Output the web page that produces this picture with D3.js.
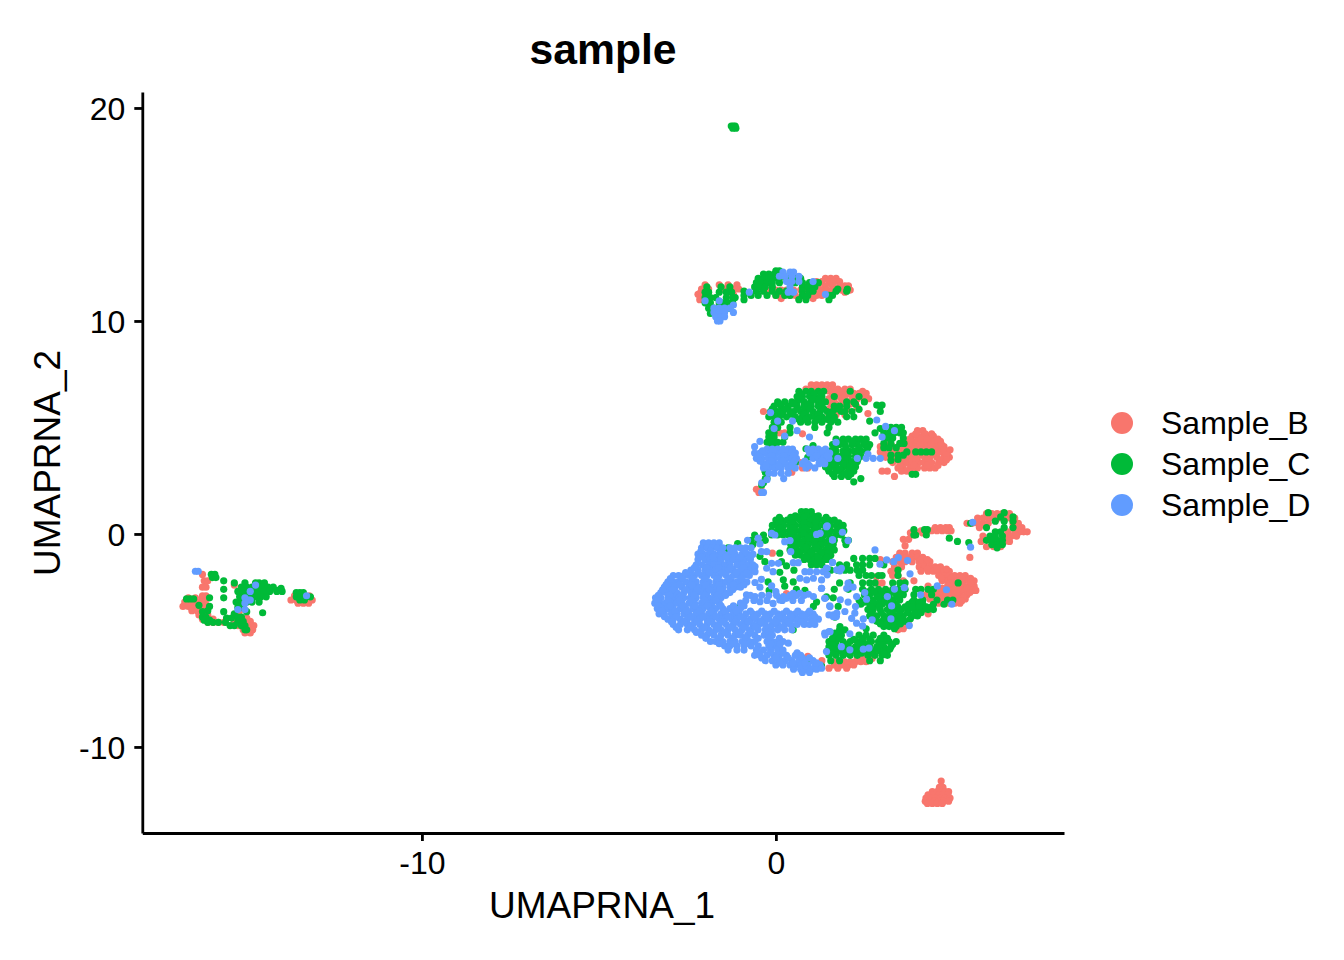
<!DOCTYPE html>
<html><head><meta charset="utf-8">
<script src="https://cdn.jsdelivr.net/npm/d3@7/dist/d3.min.js"></script>
<style>html,body{margin:0;background:#fff}svg{display:block}text{font-family:"Liberation Sans",Arial,sans-serif;fill:#000}</style>
</head><body><svg id="c" width="1344" height="960"></svg>
<script>
const chartTitle="sample", xLabel="UMAPRNA_1", yLabel="UMAPRNA_2";
const xTicks=[-10,0], yTicks=[-10,0,10,20];
const categories=["Sample_B","Sample_C","Sample_D"];
const colors=["#F8766D","#00BA38","#619CFF"];
// each row: [y, x, x, x ...]
const sampleB_rows=[
// bottom cluster
[-11.6,4.67],[-11.9,4.62,4.72],[-12.1,4.42,4.55,4.66,4.78,4.88],[-12.25,4.3,4.45,4.6,4.72,4.86],[-12.4,4.24,4.38,4.52,4.64,4.78,4.92],[-12.55,4.22,4.35,4.48,4.6,4.74,4.88],[-12.65,4.28,4.42,4.56,4.7],
// left clusters
[-1.9,-16.2],[-2.2,-16.15,-16.05],[-2.5,-16.2,-16.1],[-2.9,-16.1,-16.2],[-3.0,-16.6,-16.4,-16.2],[-3.2,-16.7,-16.55,-16.4,-16.25,-16.12],[-3.4,-16.75,-16.6,-16.45,-16.3,-16.15],[-3.6,-16.5,-16.35,-16.2],[-3.8,-16.3,-16.15,-16.05],[-4.0,-16.2,-16.05,-15.9],[-4.15,-16.05,-15.9,-15.75,-15.6],[-3.6,-15.15],[-2.4,-15.3],[-3.95,-15.1,-14.95],[-4.1,-15.3,-15.15,-15.0,-14.85],[-4.3,-15.2,-15.05,-14.9,-14.75],[-4.5,-15.05,-14.92,-14.78],[-4.65,-15.0,-14.85],
[-2.9,-13.6,-13.45,-13.3,-13.18],[-3.1,-13.7,-13.55,-13.4,-13.25,-13.1],[-3.25,-13.5,-13.35,-13.2],
// top band
[11.7,-2.0,-1.6,-1.35,-1.1],[11.5,-2.1,-1.9,-1.45,-1.2,-1.05],[11.25,-2.2,-2.05,-1.95,-1.2],[11.0,-2.15,-2.0],[12.0,1.4,1.55,1.7],[11.85,1.15,1.3,1.5,1.65,1.8],[11.65,-0.5,0.8,1.2,1.4,1.6,1.8,1.95,2.05],[11.45,-0.3,-0.15,0,0.15,0.3,0.5,0.7,0.9,1.1,1.3,1.45,1.6,1.85,2.0,2.1],[11.2,0.0,0.2,0.4,0.55,0.8,1.0,1.15,1.3],
// upper arc
[7.0,1.0,1.15,1.3,1.45,1.6],[6.8,0.85,1.0,1.2,1.4,1.6,1.75,1.95,2.1],[6.6,1.6,1.75,1.9,2.05,2.2,2.35,2.55],[6.35,1.5,1.65,1.85,2.15,2.3,2.5,2.62],[6.1,1.55,1.7,1.9,2.1,2.25],[5.85,1.5,1.65,1.85,2.0],[5.6,1.5,1.7,1.95],[5.45,1.6],[5.75,-0.35],[5.65,2.6],[4.7,0.75],
// right mid lobe
[4.85,4.0,4.15],[4.6,3.85,4.0,4.15,4.3,4.45],[4.35,3.7,3.85,4.0,4.2,4.35,4.5,4.65],[4.1,2.95,3.1,3.3,3.5,3.65,3.85,4.0,4.15,4.3,4.45,4.6,4.75],[3.85,2.95,3.15,3.3,3.5,3.65,3.85,4.0,4.2,4.35,4.5,4.65,4.85],[3.6,3.1,3.3,3.5,3.7,3.85,4.0,4.2,4.35,4.55,4.75,4.9],[3.35,3.3,3.55,3.7,3.85,4.05,4.2,4.4,4.6,4.75],[3.1,3.45,3.6,3.8,4.0,4.2,4.35,4.5],[2.95,3.0,3.15,3.55,3.7,3.85],[2.7,3.35],[2.9,0.45],[3.6,0.35],[3.35,0.55,0.7],[3.1,0.75,0.9],[3.45,-0.1],[4.75,0.1,0.25],
// small bit near -0.5,2
[2.1,-0.55,-0.42],[1.95,-0.48],
// right arc
[-0.55,3.65],[-0.9,3.5,3.65,3.85,4.0],[-1.1,3.4,3.55,3.7,3.85,4.0,4.15],[-1.3,3.3,3.5,3.65,3.85,4.05,4.2,4.35],[-1.55,3.35,3.55,4.05,4.2,4.35,4.5,4.65],[-1.75,3.25,3.4,4.1,4.3,4.45,4.6,4.75,4.9],[-1.95,3.3,3.45,4.6,4.75,4.9,5.05,5.2,5.35],[-2.2,3.6,3.9,4.7,4.85,5.0,5.15,5.3,5.45,5.6],[-2.45,4.3,4.85,5.0,5.15,5.3,5.45,5.6],[-2.65,4.4,4.6,4.75,4.9,5.05,5.2,5.35,5.55,5.65],[-2.85,4.25,4.45,4.6,4.75,4.9,5.05,5.2,5.4],[-3.05,4.35,4.55,4.7,4.85,5.0,5.15,5.35],[-3.25,4.6,4.75,4.9,5.05,5.2],[-3.75,4.3],[-4.45,3.6],[-4.25,3.75],[-1.2,2.95],[-2.0,2.85],[-2.3,2.85,3.0],
// upper right ring
[0.95,5.95,6.1,6.25,6.4,6.6],[0.75,5.7,5.85,6.0,6.15,6.3,6.45,6.6,6.75],[0.5,5.4,5.55,5.7,5.85,6.0,6.7,6.85],[0.3,5.75,6.7,6.85,6.95],[0.1,6.55,6.75,6.9,7.0,7.1],[-0.1,5.85,6.5,6.65,6.8],[-0.35,5.8,6.45,6.6],[-0.6,5.95,6.15,6.35],[-1.1,5.48],
[0.15,4.1,4.25,4.4,4.55,4.7,4.85,4.95],[0.3,4.5,4.65,4.8,4.9],[0.05,3.8,3.95,4.15],[-0.05,3.9],[-0.25,3.6,3.75],
// under lower green
[-5.85,2.3,2.45,2.6,2.72],[-6.0,1.65,1.8,1.95,2.1,2.25,2.4,2.55],[-6.15,1.65,1.85,2.05,2.2],[-6.3,1.5,1.75],[-4.5,3.45],[-5.95,1.3],[-6.3,2.0],[-4.3,3.65],
[-2.8,0.3,0.55],[-2.9,0.45],[-5.75,0.9],[-6.15,1.28],[-0.9,-0.1],
// staggered extra cells
[11.35,-2.12,-1.3,0.1,0.45,0.95,1.25,1.55,1.95],[11.05,0.15,0.65,1.05],[6.95,1.1,1.38],[6.7,1.1,1.5,1.85,2.45],[6.45,1.95,2.4],[6.2,1.6,2.0],[5.95,1.75,2.3],[4.7,3.95,4.22,4.4],[4.45,3.78,4.1,4.28,4.58],[4.2,3.2,3.75,4.08,4.38,4.68],[3.95,3.05,3.4,3.75,4.1,4.42,4.75,4.92],[3.72,3.0,3.4,3.78,4.12,4.45,4.82],[3.48,3.4,3.62,3.95,4.3,4.65,4.82],[3.22,3.5,3.9,4.28,4.58],
[-1.2,3.48,3.78,4.1,4.28],[-1.65,4.28,4.55,4.82],[-2.08,4.68,4.95,5.25,5.5],[-2.32,4.92,5.22,5.5],[-2.55,4.7,5.08,5.4],[-2.75,4.5,4.82,5.12,5.48],[-2.95,4.52,4.98,5.3],[-3.15,4.68,4.95,5.25]
];
const sampleC_rows=[
[19.15,-1.26,-1.2,-1.15],[19.05,-1.22,-1.13],
// left clusters
[-1.9,-15.95,-15.85],[-2.05,-15.92,-15.82],[-2.2,-15.6],[-2.3,-15.3,-15.0,-14.7,-14.6,-14.45],[-2.5,-15.1,-14.95,-14.8,-14.65,-14.5,-14.35,-14.2],[-2.7,-15.2,-15.05,-14.9,-14.75,-14.6,-14.45,-14.3,-14.1,-13.95],[-2.55,-13.98],[-2.65,-14.1],[-2.95,-15.15,-15.0,-14.85,-14.7,-14.55,-14.4],[-3.2,-15.25,-15.1,-14.95,-14.8,-14.6],[-3.0,-15.6],[-2.6,-15.6],[-3.45,-15.2,-15.05],[-3.65,-15.6,-14.95],
[-3.05,-16.65,-16.55,-16.45],[-3.0,-16.0],[-3.35,-16.3],[-3.4,-16.0],[-3.6,-16.05],[-3.65,-16.2],[-3.9,-16.2,-16.1],[-4.05,-16.15,-16.0],[-4.15,-16.05,-15.9,-15.75,-15.55],[-3.95,-15.52,-15.38],[-3.75,-15.3],[-3.7,-14.5],[-3.9,-15.2,-15.1],[-4.1,-15.2,-15.05],[-4.3,-15.42,-15.3,-15.1,-15.0],[-4.5,-15.0,-14.95],
[-2.75,-13.55,-13.45,-13.35],[-2.95,-13.55,-13.42,-13.3,-13.15],[-3.1,-13.45,-13.32],
// top band left
[11.6,-1.95,-1.55,-1.3],[11.35,-2.0,-1.9,-1.6,-1.4,-1.25],[11.1,-2.0,-1.85,-1.7,-1.4,-1.22,-1.15],[10.85,-2.0,-1.85,-1.6,-1.5,-1.35,-1.22],[10.6,-1.9,-1.75,-1.6,-1.45,-1.3],[10.35,-1.85,-1.7],
// top band right
[12.35,0.1,0.0],[12.2,-0.35,-0.2,-0.05,0.1,0.2,0.45],[12.0,-0.5,-0.35,-0.2,-0.05,0.1,0.3,0.55,0.7],[11.8,-0.55,-0.4,-0.25,-0.1,0.1,0.55,0.75,0.95,1.05,1.2],[11.6,-0.6,-0.45,-0.3,-0.1,0.75,0.9,1.0,1.1],[11.4,-0.9,-0.55,-0.35,-0.1,0.1,0.3,0.75,0.95,1.05,1.7,2.0],[11.2,-0.9,-0.7,-0.5,-0.25,0,0.25,0.4,0.75,0.9,1.5,1.6],[11.0,-0.9,0.65,0.85,1.5],[11.5,1.75,2.02],
// upper blob
[6.7,0.65,0.85,1.0,1.2,1.35,2.1],[6.45,0.6,0.75,0.95,1.1,1.3,1.65,2.35],[6.2,0.05,0.25,0.45,0.6,0.8,1.0,1.2,1.4,2.0,2.2,2.5],[6.0,-0.05,0.15,0.35,0.6,0.8,1.0,1.2,1.65,1.8,2.95,2.0],[5.75,-0.15,0.05,0.2,0.4,0.5,0.7,0.85,1.05,1.25,1.45,1.6,1.85,1.95,2.15],[5.5,-0.2,-0.05,0.1,0.3,0.55,0.75,0.95,1.1,1.3,1.5,1.65,2.0,2.2],[5.25,-0.05,0.15,0.7,0.9,1.1,1.3,1.55,1.75],[5.0,-0.1,0.05,0.4,1.1,1.5],[4.75,-0.2,-0.05,0.4,1.45],[4.55,-0.2,-0.05,0.25],[4.3,-0.25,-0.1,0.05,0.2],[4.1,-0.15,0],[6.05,2.85,3.0],[5.75,2.95],[2.95,-0.3,-0.25],[2.6,-0.3,-0.25],[2.4,-0.35],[2.3,-0.4],
// mid green
[4.45,1.7,1.9,2.05,2.25,2.4,2.55],[4.2,1.6,1.8,1.95,2.15,2.3,2.5,2.65],[3.9,1.55,1.7,1.9,2.05,2.2,2.4,2.55],[3.65,1.55,1.7,1.85,2.05,2.25,2.4],[3.4,1.5,1.65,1.8,2.0,2.15,2.3],[3.15,1.4,1.55,1.7,1.9,2.05,2.25],[2.95,1.5,1.7,1.85,2.05,2.2],[2.7,1.65,1.85,2.05],[2.45,2.2],[2.6,2.4],[4.0,0.85,1.0],[4.15,1.05],[3.6,1.05,0.9],[3.35,0.55],[2.9,-0.3],
// right mid
[4.95,2.95],[5.0,3.25,3.4,3.55],[4.75,2.8,3.05,3.2,3.35,3.5,3.6],[4.5,3.15,3.3,3.6],[4.25,3.05,3.25,3.5,3.62],[4.05,3.05,3.2,3.4],[3.85,3.7,3.95,4.1,4.25,4.4],[3.7,3.25,3.45,3.6],[3.45,3.25],[2.8,3.85,3.95],[3.5,3.45],[6.1,2.25],[5.85,2.35],[5.3,2.65],
// top blob (main)
[1.05,0.72,0.85,1.0],[0.85,0.55,0.72,0.88,1.05,1.2],[0.65,0.0,0.15,0.32,0.5,0.68,0.85,1.0,1.18,1.35,1.5,1.65],[0.4,-0.1,0.05,0.22,0.4,0.55,0.72,0.9,1.05,1.22,1.38,1.55,1.72,1.9],[0.15,-0.12,0.05,0.2,0.38,0.55,0.7,0.88,1.05,1.2,1.4,1.55,1.72,1.92],[-0.05,-0.6,-0.35,-0.12,0.05,0.2,0.36,0.52,0.7,0.86,1.0,1.2,1.35,1.5,1.7,1.85],[-0.3,-0.7,-0.5,-0.3,0.5,0.65,0.82,1.0,1.15,1.32,1.5,1.65,1.95,2.05],[-0.5,-0.65,0.42,0.6,0.76,0.92,1.1,1.28,1.45,1.62,1.98],[-0.75,-1.35,0.4,0.6,0.75,0.9,1.05,1.22,1.4,1.55,1.65],[-1.0,0.55,0.7,0.88,1.05,1.2,1.38,1.55],[-1.2,0.8,0.95,1.1,1.25,1.4,1.5],[-1.45,1.0,1.15,1.3],[-0.45,-1.08],[-1.05,-2.06],[-1.05,-0.45],[-0.9,0.11],[-1.3,0.16],[-1.3,-0.31],[-1.5,0.3],[-1.45,-0.69],[-1.8,0.11],[-1.7,0.51],[-2.15,0.21],[-2.25,-0.22],[-2.45,0.25],[-2.25,0.49],[-2.65,-0.19],[-2.6,0.58],[-2.65,0.82],[-3.4,1.06],[-3.2,1.15],[-2.95,1.43],[-3.0,1.62],[-3.4,1.76],[-3.9,1.67],[-5.0,1.58],[-4.65,1.67],[-4.35,1.81],[-4.5,0.49],[-5.9,0.92],[-6.2,1.29],[-0.65,-1.35],[-3.4,-1.02],
// main right
[-1.15,2.2,2.45,2.65,2.8],[-1.45,1.8,2.0,2.28,2.45,2.65,3.05],[-1.7,1.55,1.75,1.95,2.1,2.3,2.45,3.45],[-1.95,2.35,2.55,2.7,2.9,3.0,3.45],[-2.3,1.8,2.1,2.45,2.65,2.8,3.3,3.5,3.65,5.15],[-2.6,1.65,2.05,2.45,2.7,2.9,3.1,3.3,3.45,3.65,3.95,4.1,4.3,4.45],[-2.85,2.5,2.65,2.85,3.05,3.2,3.4,3.6,3.9,4.4],[-3.1,2.35,2.55,2.75,2.95,3.1,3.3,3.5,3.9,4.15,4.55,4.85,5.0],[-3.3,2.4,2.65,2.85,3.0,3.2,3.4,3.75,3.95,4.15,4.45,4.75],[-3.55,2.6,2.75,2.95,3.15,3.35,3.55,3.75,3.95,4.15,4.3,4.45],[-3.85,2.65,2.85,3.05,3.2,3.4,3.6,3.85,4.0],[-4.1,2.85,3.0,3.2,3.45,3.65],[-4.35,3.05,3.2,3.4],[-4.5,1.8,1.95],[-4.75,1.7,1.85,2.35,2.55,2.75,3.05],[-5.05,1.5,1.7,1.9,2.1,2.3,2.45,2.7,2.9,3.05,3.2,3.4],[-5.3,1.5,1.7,1.85,2.05,2.25,2.45,2.65,2.85,3.05,3.25],[-5.5,1.45,1.65,1.8,2.0,2.2,2.35,2.55,2.75,2.95,3.15],[-5.7,1.5,1.7,1.9,2.1,2.3,2.6,2.8,3.0,3.15],[-5.95,1.55,1.8,2.65,2.95],[-4.95,2.2,2.65],[-4.45,3.35,2.55],
// upper right ring
[1.0,6.0,6.45],[0.8,6.35,6.7],[0.6,6.2,6.45,6.7],[0.5,5.5],[0.3,6.45,6.7],[0.3,5.95],[0.1,6.2,6.35],[-0.1,6.05,6.2,6.4],[-0.3,5.95,6.1,6.25,6.4],[-0.5,6.1,6.25,6.4],[-0.65,6.25],[0.2,3.9,4.2,4.28],[-0.05,3.95,4.25],[-0.2,4.9],[-0.05,3.9],[-0.35,5.13],[-0.4,5.45],
// staggered extra cells
[0.78,0.1,0.42,0.8,1.12,1.42],[0.52,0.1,0.45,0.8,1.12,1.48,1.78],[0.27,0.12,0.48,0.82,1.12,1.48,1.82],[0.03,0.12,0.44,0.78,1.1,1.45,1.78],[-0.18,0.58,0.92,1.25,1.6],[-0.63,0.5,0.85,1.15,1.5],[-0.88,0.62,0.98,1.3,1.48],[-1.1,0.88,1.18,1.45],
[6.58,0.72,1.08,1.28],[6.33,0.68,1.05,1.22],[6.1,0.1,0.5,0.9,1.3],[5.87,-0.1,0.28,0.62,0.95,1.35,1.7],[5.62,-0.1,0.15,0.45,0.8,1.18,1.55],[5.38,0.0,0.65,0.85,1.2,1.45,1.65],[4.32,1.75,2.15,2.48],[4.05,1.65,1.98,2.35,2.6],[3.78,1.62,1.98,2.32],[3.52,1.62,1.95,2.32],[3.28,1.58,1.9,2.22],[3.05,1.48,1.8,2.15],[2.82,1.6,1.95,2.12],
[-2.72,2.58,2.78,3.0,3.25,3.52],[-2.98,2.6,2.9,3.2,3.45],[-3.2,2.5,2.75,3.08,3.3,3.85,4.05],[-3.42,2.7,2.92,3.25,3.45,3.65,3.85,4.05,4.25,4.4],[-3.7,2.72,2.98,3.28,3.5,3.72,3.92,4.1],[-3.98,2.78,3.12,3.35,3.55,3.8],[-4.22,2.95,3.12,3.32,3.52],[-5.18,1.6,1.95,2.35,2.6,2.95,3.3],[-5.4,1.55,1.92,2.32,2.6,2.85,3.22],[-5.6,1.58,1.98,2.42,2.7,3.05],[-4.9,1.6,1.8,2.45,2.95,3.15]
];
const sampleD_rows=[
// main blue cloud
[-0.42,-2.05,-1.9,-1.75,-1.6],[-0.65,-2.1,-1.95,-1.8,-1.65,-1.5,-1.3,-1.15,-1.0,-0.85,-0.7],[-0.95,-2.2,-2.05,-1.9,-1.75,-1.6,-1.47,-1.3,-1.15,-0.95,-0.8,-0.65],[-1.2,-2.2,-2.0,-1.85,-1.7,-1.55,-1.35,-1.2,-1.05,-0.9,-0.72],[-1.45,-2.25,-2.08,-1.9,-1.75,-1.6,-1.45,-1.3,-1.1,-0.95,-0.8,-0.65],[-1.7,-2.4,-2.2,-2.0,-1.85,-1.7,-1.5,-1.35,-1.2,-1.0,-0.85,-0.72],[-1.95,-2.9,-2.75,-2.6,-2.45,-2.3,-2.1,-1.95,-1.75,-1.6,-1.4,-1.2,-1.05,-0.9,-0.75],[-2.25,-3.05,-2.9,-2.75,-2.55,-2.4,-2.25,-2.05,-1.9,-1.7,-1.55,-1.4,-1.25,-1.1,-0.95,-0.82],[-2.5,-3.15,-3.0,-2.85,-2.65,-2.45,-2.3,-2.15,-2.0,-1.8,-1.65,-1.5,-1.3,-1.15,-1.0],[-2.75,-3.25,-3.1,-2.95,-2.8,-2.6,-2.4,-2.25,-2.1,-1.95,-1.75,-1.6,-1.45,-1.3],[-3.0,-3.4,-3.25,-3.05,-2.9,-2.75,-2.6,-2.42,-2.25,-2.05,-1.9,-1.75,-1.55],[-3.25,-3.42,-3.28,-3.12,-2.95,-2.8,-2.65,-2.45,-2.3,-2.1,-1.95,-1.8,-1.6,-1.0],[-3.5,-3.35,-3.2,-3.05,-2.9,-2.7,-2.55,-2.35,-2.2,-2.05,-1.85,-1.7,-1.5,-1.3,-1.15,-1.0],[-3.75,-3.3,-3.15,-2.95,-2.8,-2.6,-2.45,-2.25,-2.1,-1.9,-1.75,-1.55,-1.4,-1.2,-1.05,-0.85,-0.65,-0.5,-0.3,-0.15,0.05,0.2,0.4,0.55,0.72,0.88,1.05],[-4.0,-3.05,-2.9,-2.7,-2.5,-2.3,-2.15,-1.95,-1.8,-1.6,-1.45,-1.25,-1.1,-0.9,-0.72,-0.55,-0.35,-0.2,0,0.15,0.32,0.5,0.65,0.82,1.0,1.2],[-4.25,-2.9,-2.7,-2.5,-2.35,-2.15,-1.95,-1.75,-1.6,-1.4,-1.2,-1.0,-0.85,-0.65,-0.48,-0.3,-0.1,0.05,0.25,0.42,0.6,0.8,0.95,1.1],[-4.5,-2.75,-2.5,-2.3,-2.1,-1.9,-1.7,-1.55,-1.35,-1.15,-0.95,-0.75,-0.5,-0.3,-0.12,0.05,0.25,0.45],[-4.75,-2.1,-1.95,-1.75,-1.55,-1.35,-1.15,-1.0,-0.8,-0.6,-0.33,-0.1],[-5.05,-1.85,-1.7,-1.5,-1.3,-1.15,-0.95,-0.75,-0.6,-0.25,-0.1,0.05,0.2],[-5.25,-1.45,-1.3,-1.1,-0.9,-0.7,-0.5,-0.2,-0.05,0.1],[-5.45,-1.35,-1.1,-0.9,-0.55,-0.35,-0.15,0.05,0.2],[-5.7,-0.6,-0.45,-0.25,-0.05,0.1,0.3,0.55,0.7],[-5.95,-0.3,-0.1,0.1,0.25,0.45,0.65,0.8,1.05],[-6.15,0.0,0.2,0.4,0.55,0.72,0.9,1.1,1.25],[-6.35,0.5,0.7,0.85,1.0,1.15],[-6.5,0.75,0.95],
[0.03,-0.12],[-0.05,-0.03],[-0.83,-0.41,-0.26],[-0.2,-0.5],[-0.47,-0.45],[-0.36,0.25],[-0.31,0.4],[-0.83,0.42],[-0.02,1.15],[0.03,1.25],[0.34,1.43],[-0.28,1.6],[-1.33,1.6],[-1.61,1.43],[-1.69,1.72],[-1.53,-0.59],[-1.77,-0.59],[-1.61,-0.26],[-1.38,-0.12,0.07],[-1.77,-0.08],[-1.35,0.49,0.63],[-1.77,0.82,0.96,1.15,1.34],[-2.08,0.68,1.06],[-2.16,0.87,1.29],[-2.28,-0.59],[-2.13,-0.41],[-2.5,-0.45],[-2.44,-0.12],[-2.71,0],[-2.94,0.21],[-2.79,0.49,0.68],[-2.83,0.92],[-2.55,1.29],[-2.94,1.06],[-3.02,1.39],[-2.86,-0.83],[-2.94,-0.59],[-3.18,-0.45],[-3.26,-0.08],[-3.02,0.3],[-3.1,0.11],[-3.41,1.53],[-3.72,1.72],[-4.74,1.39],[-4.59,1.53],[-5.13,0.35],
[-0.75,2.8],[-1.22,3.13],[-1.42,2.94],[-1.3,3.33],[-1.11,3.46],[-1.25,3.72],[-1.87,3.79],[-1.34,1.6],[-1.61,1.45,1.85],[-1.73,1.81],[-1.92,1.45],[0.38,1.45],[0.08,1.88],[-0.28,1.6],[-0.31,2.04],[-2.31,2.04],[-2.55,2.0],[-2.5,2.18],[-2.55,1.29],[-2.75,2.51],[-2.94,2.28,3.15],[-3.06,2.56],[-3.02,1.38],[-3.09,1.82],[-3.2,2.04],[-3.41,2.25],[-3.38,1.52,3.27],[-3.8,1.62,1.5],[-3.88,1.71,1.62],[-3.64,1.95],[-3.72,2.23],[-3.96,2.14],[-4.19,2.28],[-3.99,2.47,3.25],[-4.32,2.45],[-4.03,2.72],[-2.59,3.35],[-2.52,3.63],[-2.86,4.09],[-2.44,4.56],[-2.62,4.82],[-3.3,4.97],[-4.3,3.77],[-4.66,1.38],[-4.58,1.5],[-4.69,2.09],[-5.29,1.85],[-5.44,2.09],[-5.41,2.47],[-5.36,2.63],[-5.52,1.43],[-6.3,1.29],[0.55,5.56],[-0.62,5.5],[-0.3,-0.8],
// mid blue
[5.7,-0.15],[5.3,0.05],[5.3,0.47],[4.95,-0.05],[4.85,0.6],[4.6,0.25],[4.55,0.95],[4.35,-0.45],[4.1,-0.6],[3.98,-0.25,-0.1,0.05,0.2,0.35,0.47,0.9,1.05,1.2,1.4],[3.8,-0.6,-0.45,-0.3,-0.15,0.0,0.15,0.3,0.42,0.55,0.95,1.1,1.25,1.4,1.52],[3.55,-0.55,-0.4,-0.22,-0.05,0.12,0.3,0.45,0.58,1.05,1.2,1.35,1.5,1.75],[3.3,-0.35,-0.2,-0.05,0.1,0.28,0.45,0.75,0.9,1.22,1.38],[3.1,-0.35,-0.2,-0.02,0.15,0.35,0.55,0.85,1.1],[2.85,-0.2,-0.05,0.15,0.35],[2.6,0.22],[2.55,-0.25],[4.3,1.7],[3.55,2.3,2.55,2.75,2.95],[3.75,2.6],[4.55,3.0],[4.85,3.35],[5.35,2.85],[5.05,3.1],[2.4,-0.4],[1.95,-0.4,-0.35],
// top band
[12.3,0.2,0.4,0.5],[12.1,0.1,0.25,0.45,0.65],[11.85,0.3,0.45,0.65,1.05],[11.6,0.4],[11.35,0.35,0.5],[11.35,-0.75],[11.25,1.4],[10.95,-2.0,-1.6],[10.6,-1.75,-1.6,-1.45,-1.3],[10.4,-1.75,-1.6,-1.45,-1.2,-1.5],[10.2,-1.7,-1.55,-1.45],[10.0,-1.65,-1.58],[10.75,-1.2],
// left clusters
[-1.75,-16.4,-16.32],[-2.4,-14.7],[-2.7,-14.85],[-3.0,-15.0],[-3.1,-14.9,-14.85],[-3.25,-15.0],[-3.55,-15.2,-15.0],[-2.9,-13.26],
// staggered extra cells
[-0.82,-2.12,-1.85,-1.55,-1.22,-0.88],[-1.08,-2.12,-1.78,-1.42,-1.0,-0.72],[-1.58,-2.3,-1.95,-1.62,-1.28,-0.92],[-1.82,-2.55,-2.2,-1.88,-1.52,-1.12,-0.82],[-2.1,-2.98,-2.65,-2.35,-2.0,-1.65,-1.32,-0.98],[-2.38,-3.1,-2.72,-2.38,-1.98,-1.6,-1.2,-0.9],[-2.62,-3.2,-2.92,-2.55,-2.22,-1.88,-1.58,-1.22],[-2.88,-3.32,-3.0,-2.68,-2.32,-2.0,-1.65,-1.42,-0.72,-0.4,-0.2,0.02,0.4,0.58,0.8],[-3.12,-3.35,-3.05,-2.72,-2.38,-2.02,-1.7,-0.85,-0.62,-0.25,0.18,0.48,0.72],[-3.38,-3.32,-2.98,-2.62,-2.28,-1.92,-1.55,-1.2,-0.9],[-3.62,-3.22,-2.85,-2.52,-2.15,-1.82,-1.45,-1.12,-0.72,-0.4,-0.05,0.3,0.62,0.95],[-3.88,-3.15,-2.82,-2.4,-2.05,-1.7,-1.35,-1.0,-0.62,-0.28,0.08,0.42,0.75,1.1],[-4.12,-2.95,-2.6,-2.22,-1.88,-1.5,-1.15,-0.78,-0.42,-0.02,0.35,0.72,1.05],[-4.38,-2.82,-2.42,-2.02,-1.65,-1.28,-0.92,-0.58,-0.2,0.15],[-4.62,-2.25,-1.85,-1.45,-1.05,-0.7,-0.2],[-4.9,-1.98,-1.6,-1.22,-0.85,-0.5,-0.2,0.1],[-5.15,-1.6,-1.2,-0.85,-0.15,0.12],[-5.58,-0.5,-0.15,0.2,0.6],[-5.82,-0.4,0.0,0.35,0.75,0.95],[-6.05,0.12,0.48,0.82,1.15],
[3.9,-0.38,-0.08,0.25,1.0,1.32],[3.68,-0.5,-0.12,0.22,0.5,1.15,1.45],[3.42,-0.45,-0.12,0.2,0.52,0.82,1.3],[3.2,-0.28,0.08,0.45,0.95]
];
const seriesRows=[sampleB_rows,sampleC_rows,sampleD_rows];

const x=d3.scaleLinear().domain([-17.9,8.14]).range([142.3,1064]);
const y=d3.scaleLinear().domain([-14.04,20.75]).range([833,92]);
const svg=d3.select("#c");

seriesRows.forEach((rows,i)=>{
  const pts=rows.flatMap(r=>r.slice(1).map(v=>[v,r[0]]));
  svg.append("g").selectAll("circle").data(pts).join("circle")
    .attr("cx",d=>x(d[0])).attr("cy",d=>y(d[1])).attr("r",3.6).attr("fill",colors[i]);
});

const gx=svg.append("g").attr("transform","translate(0,833)")
  .call(d3.axisBottom(x).tickValues(xTicks).tickFormat(d3.format("d")).tickSize(8).tickPadding(10).tickSizeOuter(0));
const gy=svg.append("g").attr("transform","translate(142.3,0)")
  .call(d3.axisLeft(y).tickValues(yTicks).tickFormat(d3.format("d")).tickSize(8).tickPadding(9).tickSizeOuter(0));
[gx,gy].forEach(g=>{
  g.selectAll("path,line").attr("stroke","#000").attr("stroke-width",2.8);
  g.selectAll("text").attr("font-size",32).attr("font-family",'"Liberation Sans",Arial,sans-serif').attr("fill","#000");
});
gx.selectAll("text").text(d=>d<0?"-"+Math.abs(d):d);
gy.selectAll("text").text(d=>d<0?"-"+Math.abs(d):d).attr("dy","0.36em");

svg.append("text").attr("x",603).attr("y",64).attr("text-anchor","middle").attr("font-size",42.7).attr("font-weight","bold").text(chartTitle);
svg.append("text").attr("x",602).attr("y",918).attr("text-anchor","middle").attr("font-size",37).text(xLabel);
svg.append("text").attr("transform","translate(60,463) rotate(-90)").attr("text-anchor","middle").attr("font-size",37).text(yLabel);

const lg=svg.append("g");
categories.forEach((c,i)=>{
  const cy=423+i*41;
  lg.append("circle").attr("cx",1122).attr("cy",cy).attr("r",11).attr("fill",colors[i]);
  lg.append("text").attr("x",1161).attr("y",cy+11).attr("font-size",32).text(c);
});
</script></body></html>
